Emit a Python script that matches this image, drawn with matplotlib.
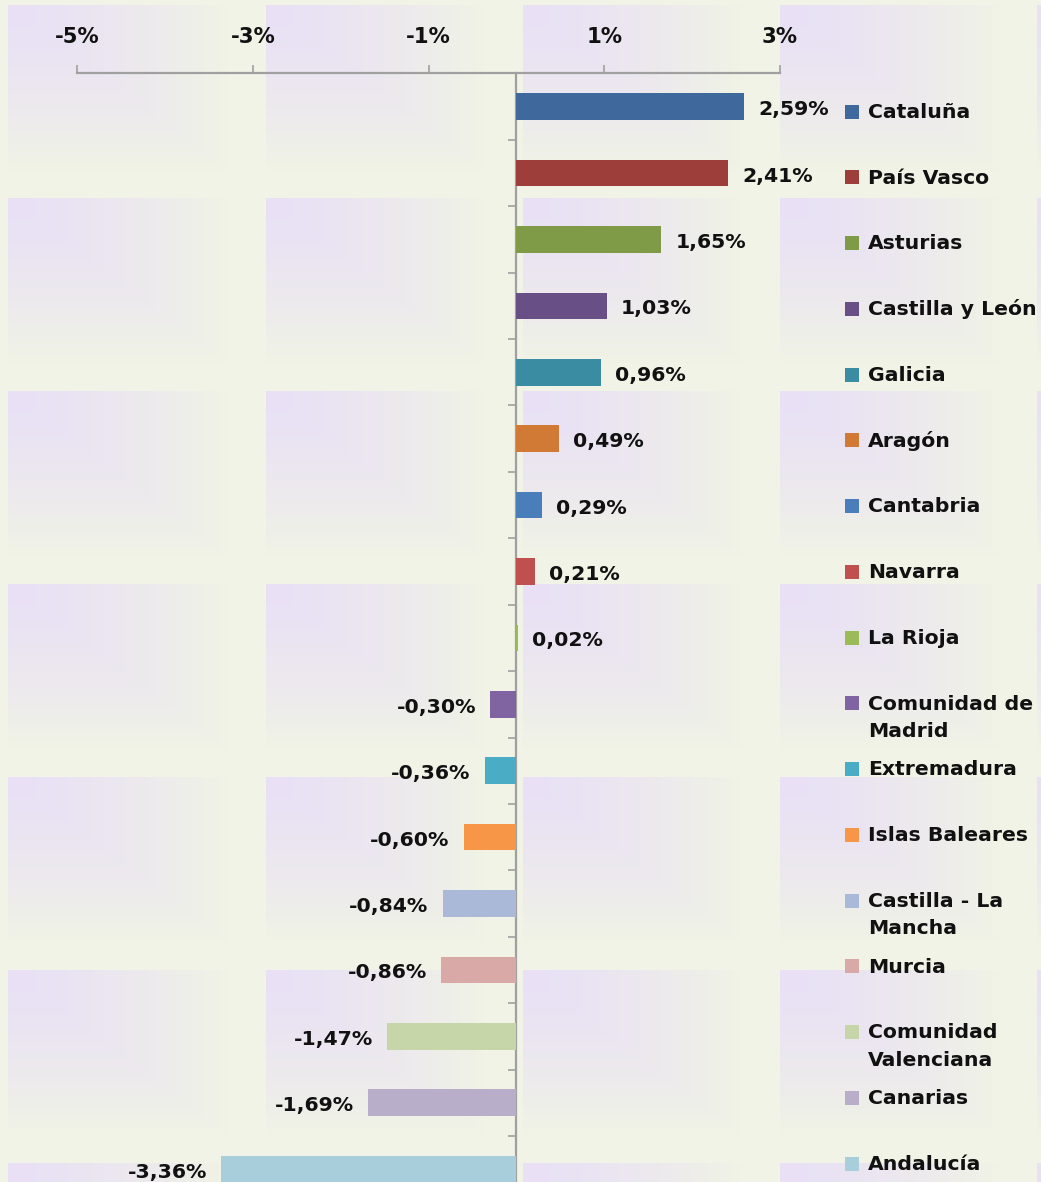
import numpy as np
import matplotlib
matplotlib.use("Agg")
import matplotlib.pyplot as plt

# ---------------- data ----------------
regions = ["Cataluña", "País Vasco", "Asturias", "Castilla y León", "Galicia",
           "Aragón", "Cantabria", "Navarra", "La Rioja", "Comunidad de\nMadrid",
           "Extremadura", "Islas Baleares", "Castilla - La\nMancha", "Murcia",
           "Comunidad\nValenciana", "Canarias", "Andalucía"]
values = [2.59, 2.41, 1.65, 1.03, 0.96, 0.49, 0.29, 0.21, 0.02, -0.30,
          -0.36, -0.60, -0.84, -0.86, -1.47, -1.69, -3.36]
colors = ["#3F699D", "#9E3E3B", "#7F9B47", "#684F85", "#3A8CA3", "#D07A36",
          "#4A7EBB", "#C0504D", "#9BBB59", "#8064A2", "#4BACC6", "#F79646",
          "#AAB9D7", "#D9A9A8", "#C7D6A9", "#B8AECA", "#A8CEDC"]
xticks = [-5, -3, -1, 1, 3]
xtick_labels = ["-5%", "-3%", "-1%", "1%", "3%"]

# ---------------- style ----------------
plt.rcParams["font.family"] = ["DejaVu Sans"]
plt.rcParams["font.weight"] = "bold"
FS = 14.7
W, H = 1041, 1182
base = np.array([240, 243, 229]) / 255.0
lav = np.array([233, 224, 246]) / 255.0
axis_gray = "#A0A0A0"
txt_col = "#111111"

fig = plt.figure(figsize=(W / 100, H / 100), dpi=100, facecolor=base)

# tiled gradient background (decoration)
yy, xx = np.mgrid[0:H, 0:W].astype(float)
x0, tw, y0, th = 8.0, 257.25, 5.0, 193.0
u = ((xx - x0) % tw) / tw
v = ((yy - y0) % th) / th
t = np.clip(np.maximum(u, v) / 0.85, 0, 1) ** 1.4
bg = lav[None, None, :] + (base - lav)[None, None, :] * t[..., None]
mask = (xx < x0) | (yy < y0)
bg[mask] = base
bgax = fig.add_axes([0, 0, 1, 1], zorder=-10)
bgax.imshow(bg, aspect="auto", interpolation="nearest", extent=[0, W, H, 0])
bgax.set_xlim(0, W)
bgax.set_ylim(H, 0)
bgax.axis("off")

# main axes
top_px, step_px = 73.5, 66.4
n = len(regions)
bottom_px = top_px + n * step_px
ax = fig.add_axes([77 / W, 1 - bottom_px / H, 703 / W, (bottom_px - top_px) / H], zorder=1)
ax.set_facecolor("none")

ypos = np.arange(n)
ax.barh(ypos, values, height=0.40, color=colors, zorder=3)
ax.set_xlim(-5, 3)
ax.set_ylim(n - 0.5, -0.5)

# spines
for s in ["bottom", "right"]:
    ax.spines[s].set_visible(False)
ax.spines["top"].set_color(axis_gray)
ax.spines["top"].set_linewidth(1.6)
ax.spines["left"].set_position(("data", 0))
ax.spines["left"].set_color(axis_gray)
ax.spines["left"].set_linewidth(1.6)

# x axis on top
ax.xaxis.tick_top()
ax.set_xticks(xticks, xtick_labels)
ax.tick_params(axis="x", direction="out", length=5.8, width=1.2, color=axis_gray,
               pad=13.0, labelsize=15.3, labelcolor=txt_col)

# y axis: tick marks between categories
ax.set_yticks([])
ax.set_yticks(ypos[:-1] + 0.5, minor=True)
ax.tick_params(axis="y", which="minor", direction="out", length=5.8, width=1.2,
               color=axis_gray, labelleft=False)

# data labels
for i, val in enumerate(values):
    txt = f"{val:.2f}%".replace(".", ",")
    dx = 14 if val >= 0 else -14
    ax.annotate(txt, (val, i), xytext=(dx, -8.5), textcoords="offset pixels",
                ha="left" if val >= 0 else "right", va="baseline",
                fontsize=FS, color=txt_col)

# legend (Excel-style, one entry per row, own spacing)
leg_top, leg_step, line_step = 110.5, 65.75, 27.5
sq_x, tx_x = 852 / W, 868 / W
for i, (name, c) in enumerate(zip(regions, colors)):
    cy = leg_top + i * leg_step
    fig.add_artist(plt.Line2D([sq_x], [1 - (cy + 1.2) / H], marker="s", ms=10.2,
                              mew=0, color=c, transform=fig.transFigure))
    for k, line in enumerate(name.split("\n")):
        fig.text(tx_x, 1 - (cy + 7.4 + k * line_step) / H, line, ha="left",
                 va="baseline", fontsize=FS, color=txt_col)

fig.savefig("out.png", dpi=100, facecolor=fig.get_facecolor())
